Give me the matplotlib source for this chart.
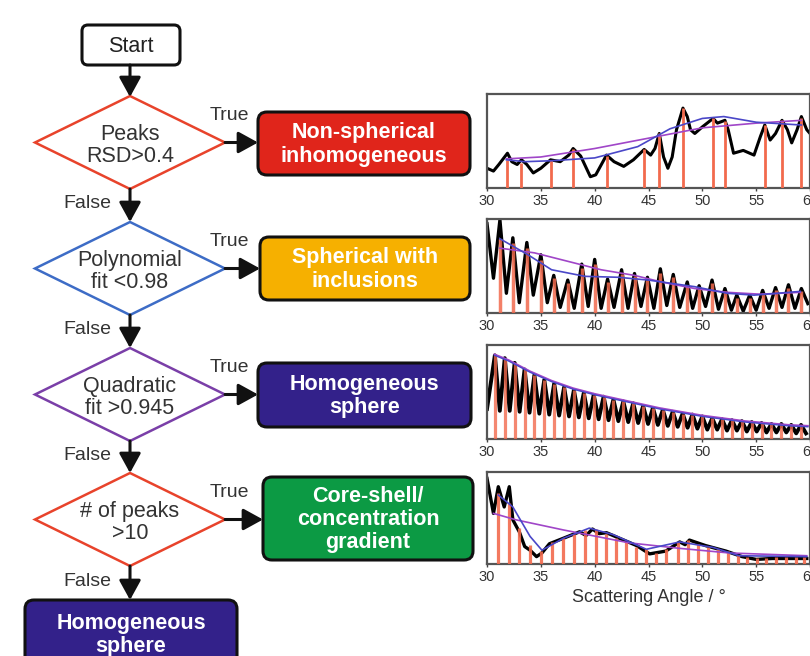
import matplotlib
matplotlib.use('Agg')
import matplotlib.pyplot as plt
from matplotlib.patches import FancyBboxPatch, Polygon

plt.rcParams['font.family'] = ['Liberation Sans', 'DejaVu Sans']

# ---- flowchart content ----
decisions = ['Peaks\nRSD>0.4', 'Polynomial\nfit <0.98', 'Quadratic\nfit >0.945', '# of peaks\n>10']
decision_colors = ['#e8432b', '#3d6cc6', '#7a3fa8', '#e8432b']
outcomes = ['Non-spherical\ninhomogeneous', 'Spherical with\ninclusions',
            'Homogeneous\nsphere', 'Core-shell/\nconcentration\ngradient']
outcome_colors = ['#e0251b', '#f6b000', '#33218a', '#0c9a44']
final_outcome = 'Homogeneous\nsphere'
final_color = '#33218a'

# ---- panel 1: non-spherical ----
p1_peak_x = [31.9, 33.2, 35.9, 38.0, 41.1, 44.6, 46.0, 48.2, 51.0, 52.1, 55.8, 57.4, 59.2]
p1_peak_h = [0.30, 0.27, 0.30, 0.41, 0.34, 0.41, 0.58, 0.85, 0.74, 0.71, 0.67, 0.72, 0.74]
p1_trace_x = [30.0, 30.6, 31.1, 31.9, 32.3, 32.8, 33.2, 33.7, 34.3, 35.0, 35.9, 36.8, 37.6,
              38.0, 38.7, 39.6, 40.1, 41.1, 41.8, 42.7, 43.6, 44.6, 45.2, 45.6, 46.0, 46.4,
              46.8, 47.2, 47.6, 48.2, 48.6, 48.9, 49.3, 50.0, 51.0, 51.4, 52.1, 52.4, 52.9,
              53.8, 54.8, 55.4, 55.8, 56.3, 56.8, 57.4, 57.9, 58.3, 58.8, 59.2, 59.7, 60.0]
p1_trace_y = [0.21, 0.18, 0.25, 0.37, 0.28, 0.25, 0.30, 0.25, 0.16, 0.21, 0.30, 0.28, 0.35,
              0.42, 0.34, 0.12, 0.14, 0.35, 0.28, 0.23, 0.30, 0.41, 0.35, 0.42, 0.58, 0.33,
              0.21, 0.33, 0.62, 0.85, 0.76, 0.62, 0.58, 0.65, 0.74, 0.69, 0.72, 0.62, 0.37,
              0.40, 0.35, 0.55, 0.67, 0.51, 0.58, 0.72, 0.62, 0.48, 0.62, 0.76, 0.62, 0.58]
p1_fit_a_x = [31.8, 35.0, 40.0, 45.0, 50.0, 55.0, 59.2]
p1_fit_a_y = [0.31, 0.33, 0.42, 0.53, 0.64, 0.69, 0.72]
p1_fit_b_x = [31.8, 33.5, 36.0, 40.0, 44.0, 47.0, 50.0, 52.0, 55.0, 59.2]
p1_fit_b_y = [0.30, 0.28, 0.29, 0.32, 0.44, 0.63, 0.74, 0.76, 0.70, 0.67]

# ---- panel 2: spherical with inclusions ----
p2_peak_x = [31.2, 32.4, 33.7, 35.0, 36.2, 37.5, 38.8, 40.0, 41.2, 42.5, 43.7, 44.9,
             46.1, 47.3, 48.6, 49.7, 50.9, 52.1, 53.2, 54.4, 55.6, 56.8, 58.0, 59.2]
p2_peak_h = [0.79, 0.74, 0.69, 0.56, 0.37, 0.32, 0.48, 0.52, 0.33, 0.42, 0.39, 0.35,
             0.43, 0.38, 0.30, 0.26, 0.32, 0.23, 0.16, 0.16, 0.21, 0.24, 0.27, 0.23]
p2_top_h = [0.99, 0.80, 0.75, 0.62, 0.40, 0.35, 0.52, 0.57, 0.36, 0.46, 0.42, 0.38,
            0.47, 0.41, 0.33, 0.29, 0.35, 0.26, 0.19, 0.19, 0.24, 0.27, 0.30, 0.26]
p2_trough_x = [30.0, 30.6, 31.8, 33.0, 34.3, 35.6, 36.8, 38.1, 39.4, 40.6, 41.8, 43.1, 44.3,
               45.5, 46.7, 47.9, 49.1, 50.3, 51.5, 52.7, 53.8, 55.0, 56.2, 57.4, 58.6, 59.8]
p2_trough_y = [0.95, 0.37, 0.21, 0.11, 0.19, 0.11, 0.06, 0.05, 0.07, 0.05, 0.06, 0.05, 0.07,
               0.05, 0.08, 0.06, 0.05, 0.07, 0.04, 0.03, 0.02, 0.03, 0.05, 0.06, 0.05, 0.10]
p2_fit_a_x = [31.2, 34.4, 37.5, 40.6, 43.7, 46.2, 49.3, 52.3, 55.4, 59.1]
p2_fit_a_y = [0.69, 0.64, 0.55, 0.46, 0.40, 0.33, 0.26, 0.22, 0.20, 0.22]
p2_fit_b_x = [31.2, 33.8, 36.0, 39.1, 42.2, 45.0, 49.3, 52.3, 54.8, 57.0, 59.1]
p2_fit_b_y = [0.79, 0.62, 0.46, 0.39, 0.38, 0.35, 0.28, 0.21, 0.19, 0.21, 0.23]

# ---- panel 3: homogeneous sphere ----
p3_peak_x = [30.73, 31.65, 32.57, 33.49, 34.40, 35.32, 36.24, 37.16, 38.07, 38.99, 39.91,
             40.83, 41.74, 42.66, 43.58, 44.50, 45.41, 46.33, 47.25, 48.17, 49.08, 50.00,
             50.92, 51.83, 52.75, 53.67, 54.59, 55.50, 56.42, 57.34, 58.26, 59.17]
p3_peak_h = [0.89, 0.86, 0.81, 0.74, 0.68, 0.63, 0.59, 0.55, 0.52, 0.49, 0.47,
             0.45, 0.42, 0.40, 0.38, 0.35, 0.33, 0.31, 0.29, 0.27, 0.26, 0.24,
             0.22, 0.21, 0.20, 0.19, 0.18, 0.17, 0.16, 0.16, 0.15, 0.15]
p3_trough_x = [30.0, 31.19, 32.11, 33.03, 33.95, 34.86, 35.78, 36.70, 37.62, 38.53, 39.45,
               40.37, 41.29, 42.20, 43.12, 44.04, 44.96, 45.87, 46.79, 47.71, 48.63, 49.54,
               50.46, 51.38, 52.29, 53.21, 54.13, 55.05, 55.96, 56.88, 57.80, 58.72, 59.63]
p3_trough_y = [0.32, 0.30, 0.30, 0.29, 0.28, 0.27, 0.26, 0.25, 0.24, 0.23, 0.22,
               0.21, 0.20, 0.19, 0.18, 0.17, 0.16, 0.15, 0.14, 0.13, 0.12, 0.11,
               0.10, 0.10, 0.09, 0.09, 0.08, 0.08, 0.07, 0.07, 0.07, 0.06, 0.06]
p3_fit_x = [30.7, 32.0, 34.0, 36.0, 38.0, 40.0, 42.0, 44.0, 46.0, 48.0, 50.0, 52.0, 54.0, 56.0, 58.0, 59.8]
p3_fit_y = [0.90, 0.84, 0.72, 0.62, 0.54, 0.48, 0.43, 0.38, 0.33, 0.29, 0.25, 0.22, 0.19, 0.17, 0.15, 0.14]

# ---- panel 4: core-shell ----
p4_peak_x = [31.05, 32.06, 32.99, 33.98, 35.06, 36.08, 37.06, 38.06, 39.07, 40.09, 41.02,
             42.01, 42.94, 43.86, 44.79, 45.71, 46.64, 47.71, 48.64, 49.56, 50.49, 51.42,
             52.34, 53.27, 54.19, 55.12, 55.95, 56.82, 57.75, 58.68, 59.44]
p4_peak_h = [0.77, 0.66, 0.39, 0.21, 0.14, 0.24, 0.28, 0.33, 0.37, 0.38, 0.33,
             0.28, 0.24, 0.19, 0.16, 0.12, 0.16, 0.24, 0.26, 0.22, 0.19, 0.16,
             0.14, 0.10, 0.08, 0.07, 0.07, 0.08, 0.08, 0.08, 0.08]
p4_trace_x = [30.0, 30.6, 31.05, 31.6, 32.07, 32.4, 33.0, 33.5, 34.0, 34.6, 35.1, 35.8, 37.1,
              38.6, 39.2, 39.8, 40.4, 41.1, 42.3, 43.9, 45.1, 46.6, 47.9, 48.4, 48.8, 50.3,
              52.2, 53.7, 55.0, 56.5, 59.7]
p4_trace_y = [0.93, 0.55, 0.84, 0.62, 0.84, 0.48, 0.35, 0.19, 0.15, 0.08, 0.12, 0.22, 0.28,
              0.35, 0.31, 0.38, 0.33, 0.34, 0.28, 0.20, 0.11, 0.14, 0.24, 0.21, 0.26, 0.20,
              0.14, 0.08, 0.05, 0.06, 0.06]
p4_fit_a_x = [30.6, 32.7, 37.1, 43.2, 47.9, 52.5, 59.7]
p4_fit_a_y = [0.55, 0.48, 0.37, 0.23, 0.17, 0.12, 0.09]
p4_fit_b_x = [31.05, 32.4, 34.0, 35.1, 37.1, 39.5, 41.7, 44.8, 47.9, 51.0, 53.4, 59.7]
p4_fit_b_y = [0.75, 0.62, 0.30, 0.15, 0.28, 0.39, 0.32, 0.16, 0.24, 0.18, 0.09, 0.08]

xticks = [30, 35, 40, 45, 50, 55, 60]
xlabel = 'Scattering Angle / \u00b0'

W, H = 810, 656
fig = plt.figure(figsize=(W / 100, H / 100), dpi=100)

# Overlay axes in pixel coordinates for the flowchart.
fa = fig.add_axes([0, 0, 1, 1], zorder=0)
fa.set_xlim(0, W)
fa.set_ylim(H, 0)
fa.axis('off')

TXT = '#333333'
FS = 15.5


def arrow(x0, y0, x1, y1):
    fa.annotate('', xy=(x1, y1), xytext=(x0, y0),
                arrowprops=dict(arrowstyle='-|>,head_length=0.6,head_width=0.33',
                                color='#111111', lw=2.2, mutation_scale=20,
                                shrinkA=0, shrinkB=0))


def rbox(x0, y0, x1, y1, fc, text, tc='white', bold=True, r=9):
    fa.add_patch(FancyBboxPatch((x0, y0), x1 - x0, y1 - y0,
                                boxstyle='round,pad=0,rounding_size=%d' % r,
                                fc=fc, ec='#111111', lw=2.2))
    fa.text((x0 + x1) / 2, (y0 + y1) / 2 + 1, text, ha='center', va='center',
            color=tc, fontsize=FS, fontweight='bold' if bold else 'normal',
            linespacing=1.15)


# Start box
rbox(82, 25, 180, 65, 'white', 'Start', tc='#222222', bold=False, r=6)
arrow(130, 65, 130, 97)

cx, half_w = 130, 95
diamond_tops = [96, 222, 348, 473]
diamond_h = 93
box_rows = [(258, 112, 470, 175), (260, 237, 470, 300), (258, 363, 471, 427), (263, 477, 473, 560)]

for i in range(4):
    top = diamond_tops[i]
    cy = top + diamond_h / 2
    fa.add_patch(Polygon([(cx, top), (cx + half_w, cy), (cx, top + diamond_h), (cx - half_w, cy)],
                         closed=True, fc='white', ec=decision_colors[i], lw=1.8))
    fa.text(cx, cy + 3, decisions[i], ha='center', va='center', color=TXT,
            fontsize=FS, linespacing=1.12)
    bx0, by0, bx1, by1 = box_rows[i]
    arrow(cx + half_w, cy, bx0, cy)
    fa.text(229, cy - 27, 'True', ha='center', va='center', color=TXT, fontsize=14)
    rbox(bx0, by0, bx1, by1, outcome_colors[i], outcomes[i])
    # False arrow down to the next element
    nxt = diamond_tops[i + 1] if i < 3 else 600
    arrow(cx, top + diamond_h, cx, nxt)
    fa.text(87, (top + diamond_h + nxt) / 2 - 2, 'False', ha='center', va='center',
            color=TXT, fontsize=14)

rbox(25, 600, 237, 668, final_color, final_outcome)

# ---- spectra panels ----
panel_px = [(94, 188), (219, 313), (345, 439), (472, 564)]
x_left, x_right = 487, 810

RED = '#f26a4d'
PURPLE = '#a046c8'
BLUE = '#4a47c8'


def make_ax(k):
    t, b = panel_px[k]
    ax = fig.add_axes([x_left / W, 1 - b / H, (x_right - x_left) / W, (b - t) / H], zorder=2)
    ax.set_xlim(30, 60)
    ax.set_ylim(0, 1)
    ax.set_yticks([])
    ax.set_xticks(xticks)
    ax.tick_params(axis='x', labelsize=10.5, length=2, width=1, color='#444444',
                   labelcolor='#333333', pad=2)
    for s in ax.spines.values():
        s.set_color('#555555')
        s.set_linewidth(1.6)
    return ax


def interleave(xa, ya, xb, yb):
    pts = sorted(zip(list(xa) + list(xb), list(ya) + list(yb)))
    return [p[0] for p in pts], [p[1] for p in pts]


# panel 1
ax = make_ax(0)
ax.plot(p1_trace_x, p1_trace_y, color='black', lw=2.2, zorder=2)
ax.vlines(p1_peak_x, 0, p1_peak_h, color=RED, lw=2, zorder=3)
ax.plot(p1_fit_a_x, p1_fit_a_y, color=PURPLE, lw=1.2, zorder=4)
ax.plot(p1_fit_b_x, p1_fit_b_y, color=BLUE, lw=1.2, zorder=4)

# panel 2
ax = make_ax(1)
tx, ty = interleave(p2_peak_x, p2_top_h, p2_trough_x, p2_trough_y)
ax.plot(tx, ty, color='black', lw=2.4, zorder=2)
ax.vlines(p2_peak_x, 0, p2_peak_h, color=RED, lw=2.5, alpha=0.85, zorder=3)
ax.plot(p2_fit_a_x, p2_fit_a_y, color=PURPLE, lw=1.2, zorder=4)
ax.plot(p2_fit_b_x, p2_fit_b_y, color=BLUE, lw=1.2, zorder=4)

# panel 3
ax = make_ax(2)
tx, ty = interleave(p3_peak_x, p3_peak_h, p3_trough_x, p3_trough_y)
ax.plot(tx, ty, color='black', lw=2.8, zorder=2)
ax.vlines(p3_peak_x, 0, p3_peak_h, color=RED, lw=2.3, alpha=0.8, zorder=3)
ax.plot(p3_fit_x, p3_fit_y, color=PURPLE, lw=1.4, zorder=4)
ax.plot(p3_fit_x, [v - 0.01 for v in p3_fit_y], color=BLUE, lw=1.0, zorder=4)

# panel 4
ax = make_ax(3)
ax.plot(p4_trace_x, p4_trace_y, color='black', lw=2.4, zorder=2)
ax.vlines(p4_peak_x, 0, p4_peak_h, color=RED, lw=2.3, alpha=0.9, zorder=3)
ax.plot(p4_fit_a_x, p4_fit_a_y, color=PURPLE, lw=1.2, zorder=4)
ax.plot(p4_fit_b_x, p4_fit_b_y, color=BLUE, lw=1.2, zorder=4)
ax.set_xlabel(xlabel, fontsize=13, color='#333333', labelpad=4)

fig.savefig('out.png', dpi=100)
